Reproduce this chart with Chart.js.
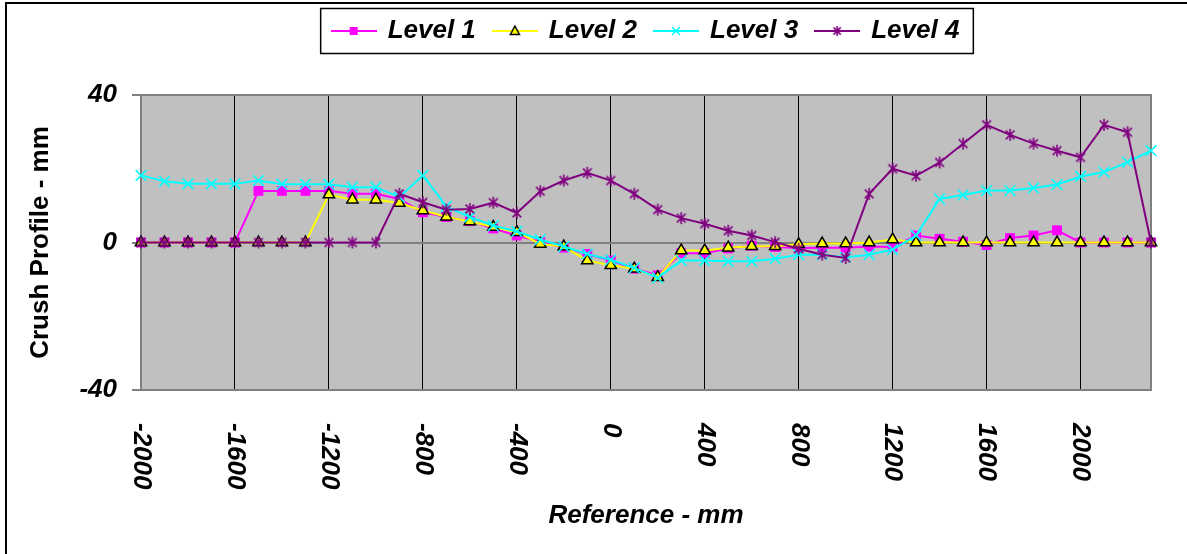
<!DOCTYPE html>
<html>
<head>
<meta charset="utf-8">
<script src="https://cdn.jsdelivr.net/npm/chart.js@4"></script>
<style>
body{margin:0;background:#fff}
canvas{display:block}
</style>
</head>
<body>
<canvas id="myChart" width="1187" height="554"></canvas>
<script>
// reference positions in mm
const reference = [-2000,-1900,-1800,-1700,-1600,-1500,-1400,-1300,-1200,-1100,-1000,-900,-800,-700,-600,-500,-400,-300,-200,-100,
  0,100,200,300,400,500,600,700,800,900,1000,1100,1200,1300,1400,1500,1600,1700,1800,1900,2000,2100,2200,2300]

// crush profile values (mm)
const level1 = [0,0,0,0,0,14,14,14,14,13.2,13.2,11.8,8.2,6.9,5.8,3.8,1.9,0.1,-1.4,-3.1,
  -4.9,-7.1,-8.9,-2.9,-2.9,-1.6,-0.9,-1.2,-1.5,-1.4,-1.4,-1.1,-1.2,1.9,1.0,0.2,-0.7,1.2,1.9,3.3,0,0,0,0]
const level2 = [0,0,0,0,0,0,0,0,13,11.6,11.6,10.7,8.7,7,5.7,4.2,2.8,-0.4,-1.1,-4.9,
  -6.2,-7.1,-9.4,-2.2,-2.2,-1.4,-1,-1,-0.5,-0.3,-0.3,0,0.8,0,0,0,0,0,0,0,0,0,0,0]
const level3 = [18.2,16.6,15.9,15.9,15.9,16.8,15.8,15.8,15.8,15,15,12.3,18.2,9.8,6.9,4.6,3,0.8,-1.1,-3.1,
  -4.7,-6.9,-9.6,-4.9,-4.9,-5.1,-5.1,-4.4,-3.3,-3.3,-4,-3.3,-1.9,1.9,11.8,12.9,14.1,14.1,14.8,15.7,17.9,19.1,21.8,24.9]
const level4 = [0,0,0,0,0,0,0,0,0,0,0,13.2,10.9,8.9,9.1,10.8,8,13.9,16.8,18.9,
  16.8,13.2,8.9,6.6,5.1,3.2,1.9,0.1,-1.7,-3.3,-4.2,13.2,20,18.1,21.7,26.8,31.9,29.2,26.8,24.9,23.1,31.9,29.9,0]

// axis ticks
const xTickValues = [-2000,-1600,-1200,-800,-400,0,400,800,1200,1600,2000]
const yTickValues = [-40,0,40]

const seriesNames = ['Level 1','Level 2','Level 3','Level 4']
const seriesColors = ['#FF00FF','#FFFF00','#00FFFF','#800080']

const fontFamily = "'Liberation Sans', Arial, sans-serif"

// asterisk marker like the excel one (x plus vertical bar)
function starIcon(size, color) {
  const c = document.createElement('canvas')
  c.width = size; c.height = size
  const g = c.getContext('2d')
  const m = size / 2, r = size / 2 - 1, d = r * 0.72
  g.strokeStyle = color; g.lineWidth = 1.6
  g.beginPath()
  g.moveTo(m, m - r); g.lineTo(m, m + r)
  g.moveTo(m - d, m - d); g.lineTo(m + d, m + d)
  g.moveTo(m + d, m - d); g.lineTo(m - d, m + d)
  g.stroke()
  return c
}

// legend sample: short line with the marker in the middle
function legendIcon(i) {
  const c = document.createElement('canvas')
  c.width = 46; c.height = 20
  const g = c.getContext('2d')
  g.strokeStyle = seriesColors[i]; g.lineWidth = 2
  g.beginPath(); g.moveTo(0, 10); g.lineTo(46, 10); g.stroke()
  if (i == 0) {
    g.fillStyle = seriesColors[0]; g.fillRect(19, 6, 8, 8)
  } else if (i == 1) {
    g.beginPath(); g.moveTo(23, 5); g.lineTo(27.5, 13.5); g.lineTo(18.5, 13.5); g.closePath()
    g.fillStyle = '#FFFF00'; g.fill(); g.strokeStyle = '#000'; g.lineWidth = 1.5; g.stroke()
  } else if (i == 2) {
    g.strokeStyle = seriesColors[2]; g.lineWidth = 1.5
    g.beginPath(); g.moveTo(19, 6); g.lineTo(27, 14); g.moveTo(27, 6); g.lineTo(19, 14); g.stroke()
  } else {
    g.drawImage(starIcon(12, seriesColors[3]), 17, 4)
  }
  return c
}
const legendIcons = [0,1,2,3].map(legendIcon)

function pts(values) {
  return reference.map((x, i) => ({x: x, y: values[i]}))
}

const chartBits = {
  id: 'chartBits',
  beforeLayout(chart) {
    const lg = chart.legend
    if (lg && !lg._patched) {
      const fit = lg.fit
      lg.fit = function () { fit.call(this); this.height = 95 }
      lg._patched = true
    }
  },
  beforeDraw(chart) {
    const {ctx, chartArea: a} = chart
    ctx.save()
    ctx.fillStyle = '#C0C0C0'
    ctx.fillRect(a.left, a.top, a.right - a.left, a.bottom - a.top)
    ctx.restore()
  },
  beforeDatasetsDraw(chart) {
    const {ctx, chartArea: a} = chart
    ctx.save()
    ctx.strokeStyle = '#808080'; ctx.lineWidth = 2
    ctx.strokeRect(a.left, a.top, a.right - a.left, a.bottom - a.top)
    ctx.restore()
  },
  afterDraw(chart) {
    const ctx = chart.ctx
    ctx.save()
    // outer frame (only left and top show)
    ctx.strokeStyle = '#000'; ctx.lineWidth = 2
    ctx.beginPath(); ctx.moveTo(6, 554); ctx.lineTo(6, 3); ctx.lineTo(1187, 3); ctx.stroke()

    // box round the legend
    const hb = chart.legend.legendHitBoxes
    if (hb && hb.length) {
      const l = Math.min(...hb.map(h => h.left)) - 12
      const r = Math.max(...hb.map(h => h.left + h.width)) + 14
      const cy = hb[0].top + hb[0].height / 2
      ctx.lineWidth = 1.5
      ctx.strokeRect(l, cy - 22.5, r - l, 45)
    }

    // x tick labels, turned to read downwards
    const xs = chart.scales.x
    ctx.fillStyle = '#000'
    ctx.font = 'italic bold 26px ' + fontFamily
    ctx.textAlign = 'left'; ctx.textBaseline = 'middle'
    xs.ticks.forEach(t => {
      const px = xs.getPixelForValue(t.value)
      ctx.save()
      ctx.translate(px, 423)
      ctx.rotate(Math.PI / 2)
      ctx.fillText(String(t.value), 0, 0)
      ctx.restore()
    })
    ctx.restore()
  }
}

const styles = [
  {pointStyle: 'rect', pointRadius: 7, pointBackgroundColor: '#FF00FF', pointBorderColor: '#FF00FF', pointBorderWidth: 0},
  {pointStyle: 'triangle', pointRadius: 6.5, pointBackgroundColor: '#FFFF00', pointBorderColor: '#000', pointBorderWidth: 1.5},
  {pointStyle: 'crossRot', pointRadius: 7.5, pointBackgroundColor: '#00FFFF', pointBorderColor: '#00FFFF', pointBorderWidth: 1.6},
  {pointStyle: starIcon(14, '#800080'), pointRadius: 7, pointBackgroundColor: '#800080', pointBorderColor: '#800080'}
]
const allValues = [level1, level2, level3, level4]

var ctx = document.getElementById('myChart').getContext('2d')
var myChart = new Chart(ctx, {
  type: 'line',
  data: {
    datasets: allValues.map((v, i) => Object.assign({
      label: seriesNames[i],
      data: pts(v),
      borderColor: seriesColors[i],
      borderWidth: 2,
      tension: 0,
      clip: false,
      order: 4 - i   // level 4 drawn on top
    }, styles[i]))
  },
  options: {
    responsive: false,
    devicePixelRatio: 1,
    animation: false,
    layout: {padding: {top: 0, left: 0, right: 36, bottom: 0}},
    plugins: {
      tooltip: {enabled: false},
      legend: {
        position: 'top',
        fullSize: false,
        labels: {
          usePointStyle: true,
          pointStyleWidth: 42,
          padding: 18,
          color: '#000',
          font: {family: fontFamily, size: 26, weight: 'bold', style: 'italic'},
          generateLabels: (chart) => chart.data.datasets.map((ds, i) => ({
            text: ds.label, pointStyle: legendIcons[i], datasetIndex: i,
            fontColor: '#000', hidden: false, lineWidth: 0,
            strokeStyle: 'rgba(0,0,0,0)', fillStyle: 'rgba(0,0,0,0)'
          }))
        }
      }
    },
    scales: {
      x: {
        type: 'linear',
        min: -2000,
        max: 2300,
        afterBuildTicks: (s) => { s.ticks = xTickValues.map(v => ({value: v})) },
        afterFit: (s) => { s.height = 164 },
        border: {display: false},
        grid: {color: '#000', lineWidth: 1, drawTicks: false},
        ticks: {display: false},
        title: {
          display: true, text: 'Reference - mm', color: '#000',
          font: {family: fontFamily, size: 26, weight: 'bold', style: 'italic'},
          padding: {top: 0, bottom: 23}
        }
      },
      y: {
        min: -40,
        max: 40,
        afterBuildTicks: (s) => { s.ticks = yTickValues.map(v => ({value: v})) },
        afterFit: (s) => { s.width = 141 },
        border: {display: false},
        grid: {
          color: (c) => c.tick && c.tick.value === 0 ? '#808080' : 'rgba(0,0,0,0)',
          lineWidth: 2,
          tickColor: '#000',
          tickWidth: 1,
          tickLength: 9
        },
        ticks: {
          padding: 15, color: '#000',
          font: {family: fontFamily, size: 26, weight: 'bold', style: 'italic'}
        },
        title: {
          display: true, text: 'Crush Profile - mm', color: '#000',
          font: {family: fontFamily, size: 26, weight: 'bold'},
          padding: {top: 25, bottom: 0}
        }
      }
    }
  },
  plugins: [chartBits]
})
</script>
</body>
</html>
